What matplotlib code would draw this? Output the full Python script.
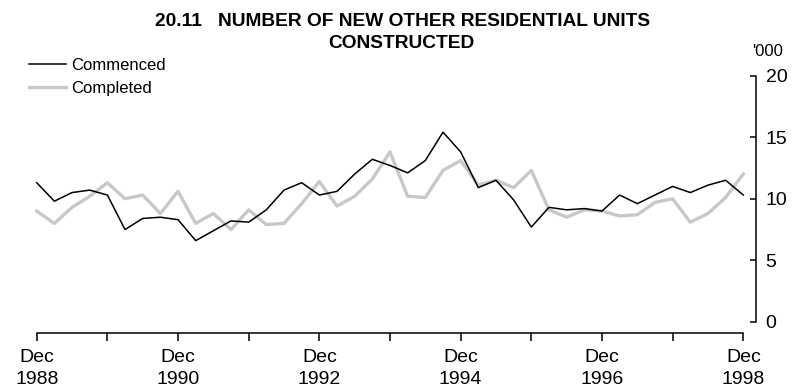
import numpy as np
import matplotlib
matplotlib.use('Agg')
from matplotlib import pyplot as plt

plt.rcParams['font.family'] = ['Liberation Sans', 'DejaVu Sans']

# quarterly, Dec 1988 .. Dec 1998 ('000 units)
quarters = ['Dec 1988', 'Mar 1989', 'Jun 1989', 'Sep 1989', 'Dec 1989',
            'Mar 1990', 'Jun 1990', 'Sep 1990', 'Dec 1990',
            'Mar 1991', 'Jun 1991', 'Sep 1991', 'Dec 1991',
            'Mar 1992', 'Jun 1992', 'Sep 1992', 'Dec 1992',
            'Mar 1993', 'Jun 1993', 'Sep 1993', 'Dec 1993',
            'Mar 1994', 'Jun 1994', 'Sep 1994', 'Dec 1994',
            'Mar 1995', 'Jun 1995', 'Sep 1995', 'Dec 1995',
            'Mar 1996', 'Jun 1996', 'Sep 1996', 'Dec 1996',
            'Mar 1997', 'Jun 1997', 'Sep 1997', 'Dec 1997',
            'Mar 1998', 'Jun 1998', 'Sep 1998', 'Dec 1998']

commenced = [11.3, 9.8, 10.5, 10.7, 10.3, 7.5, 8.4, 8.5, 8.3, 6.6,
             7.4, 8.2, 8.1, 9.1, 10.7, 11.3, 10.3, 10.6, 12.0, 13.2,
             12.7, 12.1, 13.1, 15.4, 13.8, 10.9, 11.5, 9.9, 7.7, 9.3,
             9.1, 9.2, 9.0, 10.3, 9.6, 10.3, 11.0, 10.5, 11.1, 11.5, 10.3]

completed = [9.0, 8.0, 9.3, 10.2, 11.3, 10.0, 10.3, 8.8, 10.6, 8.0,
             8.8, 7.5, 9.1, 7.9, 8.0, 9.6, 11.4, 9.4, 10.2, 11.6,
             13.8, 10.2, 10.1, 12.3, 13.1, 11.1, 11.5, 10.9, 12.3, 9.1,
             8.5, 9.1, 9.0, 8.6, 8.7, 9.7, 10.0, 8.1, 8.8, 10.1, 12.0]

x = np.arange(len(quarters))

fig = plt.figure(figsize=(7.93, 3.89), dpi=100)
ax = fig.add_axes([36.7 / 793, 1 - 333.3 / 389, (756 - 36.7) / 793, (333.3 - 75.5) / 389])

ax.plot(x, commenced, color='black', lw=1.1, label='Commenced', zorder=3, clip_on=False)
ax.plot(x, completed, color='#c8c8c8', lw=2.4, label='Completed', zorder=2, clip_on=False)

ax.set_xlim(0, 40.72)
ax.set_ylim(-0.92, 20)

for s in ['top', 'left']:
    ax.spines[s].set_visible(False)
ax.spines['bottom'].set_bounds(0, 40)
ax.spines['right'].set_bounds(0, 20)
for s in ['bottom', 'right']:
    ax.spines[s].set_linewidth(1.1)

# x ticks: every year, labelled every second Dec
ax.set_xticks(x[::4])
ax.set_xticklabels([q.replace(' ', '\n') if i % 8 == 0 else '' for i, q in enumerate(quarters) if i % 4 == 0],
                   linespacing=1.4)
ax.tick_params(axis='x', direction='out', length=6, width=1.1, pad=5, labelsize=14)

ax.yaxis.tick_right()
ax.set_yticks([0, 5, 10, 15, 20])
ax.tick_params(axis='y', direction='in', length=4.5, width=1.1, pad=7, labelsize=14)

fig.text(403 / 793, 1 - 26 / 389, '20.11   NUMBER OF NEW OTHER RESIDENTIAL UNITS',
         ha='center', va='baseline', fontsize=13.8, fontweight='bold')
fig.text(401 / 793, 1 - 48 / 389, 'CONSTRUCTED',
         ha='center', va='baseline', fontsize=13.8, fontweight='bold')
fig.text(752 / 793, 1 - 56 / 389, "'000", ha='left', va='baseline', fontsize=12)

fig.legend(loc='upper left', bbox_to_anchor=(29 / 793, 1 - 58 / 389), frameon=False,
           fontsize=12, handlelength=2.2, handletextpad=0.35, labelspacing=0.5,
           borderpad=0, borderaxespad=0)

fig.savefig('out.png', dpi=100)
